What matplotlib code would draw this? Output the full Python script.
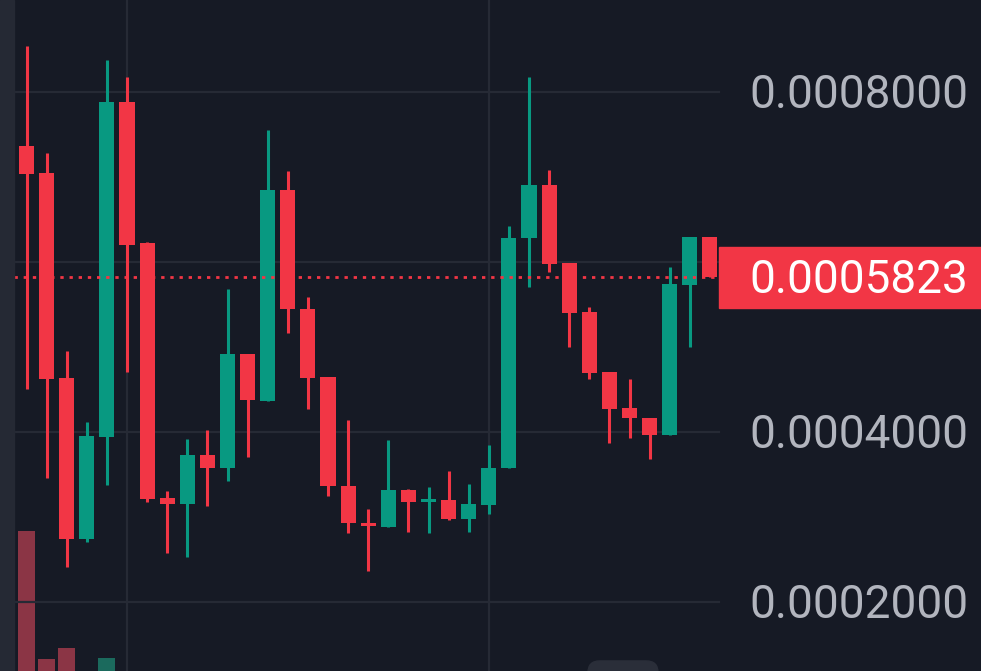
import matplotlib
matplotlib.use("Agg")
import matplotlib.pyplot as plt
import matplotlib.transforms as mtransforms
from matplotlib.patches import Rectangle, FancyBboxPatch

# candles, oldest first
opens = [0.0007361, 0.0007048, 0.0004638, 0.0002739, 0.0003942, 0.0007885, 0.0006224,
         0.0003228, 0.0003152, 0.0003731, 0.0003575, 0.0004914, 0.0004366, 0.0006852,
         0.0005448, 0.0004647, 0.0003364, 0.0002931, 0.0002886, 0.0003319, 0.0003182,
         0.0003202, 0.0002981, 0.0003142, 0.0003571, 0.0006279, 0.0006907, 0.0005986,
         0.0005413, 0.0004708, 0.0004285, 0.0004164, 0.0003968, 0.0005734, 0.0006293]
highs = [0.0008544, 0.0007280, 0.0004954, 0.0004114, 0.0008378, 0.0008176, 0.0006233,
         0.0003308, 0.0003912, 0.0004024, 0.0005679, 0.0004914, 0.0007552, 0.0007068,
         0.0005588, 0.0004647, 0.0004139, 0.0003092, 0.0003902, 0.0003328, 0.0003354,
         0.0003540, 0.0003384, 0.0003852, 0.0006425, 0.0008176, 0.0007084, 0.0005986,
         0.0005473, 0.0004708, 0.0004622, 0.0004164, 0.0005936, 0.0006293, 0.0006293]
lows = [0.0004501, 0.0003459, 0.0002412, 0.0002709, 0.0003379, 0.0004702, 0.0003172,
        0.0002579, 0.0002528, 0.0003132, 0.0003424, 0.0003706, 0.0004366, 0.0005161,
        0.0004265, 0.0003242, 0.0002809, 0.0002367, 0.0002886, 0.0002825, 0.0002809,
        0.0002961, 0.0002825, 0.0003036, 0.0003571, 0.0005709, 0.0005886, 0.0005005,
        0.0004627, 0.0003872, 0.0003933, 0.0003681, 0.0003968, 0.0005005, 0.0005823]
closes = [0.0007033, 0.0004622, 0.0002739, 0.0003953, 0.0007885, 0.0006198, 0.0003213,
          0.0003152, 0.0003731, 0.0003575, 0.0004914, 0.0004371, 0.0006852, 0.0005442,
          0.0004638, 0.0003359, 0.0002926, 0.0002891, 0.0003319, 0.0003178, 0.0003213,
          0.0002976, 0.0003152, 0.0003575, 0.0006284, 0.0006907, 0.0005976, 0.0005402,
          0.0004698, 0.0004275, 0.0004159, 0.0003968, 0.0005740, 0.0006293, 0.0005823]
volumes = [160, 32, 43, 15, 33, 12, 14, 8, 9, 6, 10, 7, 13, 9, 8, 11, 7, 6, 5, 4, 3,
           4, 5, 6, 15, 18, 12, 9, 8, 7, 5, 4, 11, 10, 6]

tick_values = [0.0008, 0.0004, 0.0002]
tick_labels = ['0.0008000', '0.0004000', '0.0002000']
grid_prices = [0.0008, 0.0006, 0.0004, 0.0002]
grid_candles = [5, 23]
last_label = '0.0005823'

UP = '#089981'
DOWN = '#f23645'
UP_VOL = '#1b6a5d'
DOWN_VOL = '#8b3545'
BG = '#161a25'
GRID = '#262a35'
TEXT = '#b2b5be'

W, H = 981, 671
x0_px, step_px = 26.5, 20.1          # first candle centre, candle spacing
price_per_px = 0.0004 / 340
top_price = 0.0008 + 92 * price_per_px
bottom_price = top_price - H * price_per_px
plot_right = 719 / W
plot_left = 14 / W
text_nudge = 3 * price_per_px        # labels sit a touch lower than centre

fig = plt.figure(figsize=(W / 100, H / 100), dpi=100, facecolor=BG)
ax = fig.add_axes([0, 0, 1, 1], facecolor=BG)
ax.set_xlim(-x0_px / step_px, (W - x0_px) / step_px)
ax.set_ylim(bottom_price, top_price)
ax.axis('off')

# volume on its own scale, zero sits below the bottom edge
axv = ax.twinx()
axv.set_ylim(20, 20 + H)
axv.axis('off')
axv.set_zorder(0)
ax.set_zorder(1)
ax.patch.set_visible(False)

# grid
for p in grid_prices:
    ax.axhline(p, xmin=plot_left, xmax=plot_right, color=GRID, lw=1.6, zorder=0)
for c in grid_candles:
    ax.axvline(c, color=GRID, lw=1.6, zorder=0)

xs = list(range(len(opens)))
for i in xs:
    o, h, l, c = opens[i], highs[i], lows[i], closes[i]
    col = UP if c >= o else DOWN
    ax.vlines(i, l, h, color=col, lw=2.2, zorder=2)
    ax.bar(i, max(abs(c - o), 2 * price_per_px), bottom=min(o, c), width=0.75,
           color=col, linewidth=0, zorder=3)
    axv.bar(i, volumes[i], width=0.85, color=UP_VOL if c >= o else DOWN_VOL,
            linewidth=0)

# last price line
ln = ax.axhline(closes[-1], xmin=plot_left, xmax=plot_right, color=DOWN, lw=2, zorder=4)
ln.set_dashes((1.2, 2.1))

# left panel edge
fig.patches.append(Rectangle((0, 0), plot_left, 1, transform=fig.transFigure,
                             color='#252934', zorder=5))

# scroll button
fig.patches.append(FancyBboxPatch((588 / W, -0.02), 70 / W, 0.035,
                                  boxstyle='round,pad=0,rounding_size=0.012',
                                  transform=fig.transFigure, color='#2a2e39',
                                  mutation_aspect=W / H, zorder=5))

trans = mtransforms.blended_transform_factory(ax.transAxes, ax.transData)
for v, lab in zip(tick_values, tick_labels):
    ax.text(749 / W, v - text_nudge, lab, transform=trans, ha='left', va='center',
            fontsize=33, family='Roboto', color=TEXT)

# price tag
ax.add_patch(Rectangle((plot_right, closes[-1] - 30.5 * price_per_px), 1 - plot_right,
                       61 * price_per_px, transform=trans, color=DOWN, zorder=6,
                       clip_on=False))
ax.text(749 / W, closes[-1] - text_nudge, last_label, transform=trans, ha='left',
        va='center', fontsize=33, family='Roboto', color='white', zorder=7)

fig.savefig('out.png', dpi=100, facecolor=BG)
